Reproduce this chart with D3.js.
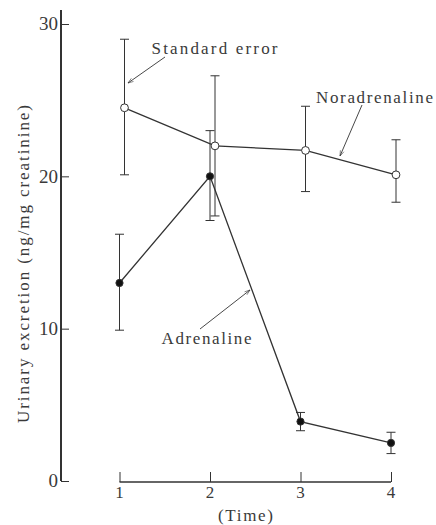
<!DOCTYPE html>
<html>
<head>
<meta charset="utf-8">
<script src="https://cdn.jsdelivr.net/npm/d3@7"></script>
<style>
  html, body { margin: 0; padding: 0; background: #fff; }
  text { font-family: "Liberation Serif", "DejaVu Serif", serif; fill: #3a3a3a; }
</style>
</head>
<body>
<div id="chart"></div>
<script>
// values
const times = [1, 2, 3, 4];
const noradrenaline = [24.5, 22.0, 21.7, 20.1];
const noradrenalineHigh = [29.0, 26.6, 24.6, 22.4];
const noradrenalineLow = [20.1, 17.4, 19.0, 18.3];
const adrenaline = [13.0, 20.0, 3.9, 2.5];
const adrenalineHigh = [16.2, 23.0, 4.5, 3.2];
const adrenalineLow = [9.9, 17.1, 3.3, 1.8];
const yTicks = [0, 10, 20, 30];

const width = 436, height = 525;
const ink = "#333";

const svg = d3.select("#chart").append("svg")
    .attr("width", width)
    .attr("height", height);

const x = d3.scaleLinear().domain([1, 4]).range([119.5, 391]);
const y = d3.scaleLinear().domain([0, 30]).range([481, 24]);

// y axis: heavy line, ticks pointing inwards
svg.append("line")
    .attr("x1", 61).attr("x2", 61)
    .attr("y1", 10).attr("y2", y(0))
    .attr("stroke", ink).attr("stroke-width", 2);

const yAxis = svg.append("g")
    .attr("transform", "translate(61,0)")
    .call(d3.axisRight(y).tickValues(yTicks).tickSize(8).tickFormat(""));
yAxis.select(".domain").remove();
yAxis.selectAll(".tick line").attr("stroke", ink);

svg.append("g").selectAll("text")
    .data(yTicks)
    .join("text")
    .attr("x", 58)
    .attr("y", d => y(d))
    .attr("dy", "0.33em")
    .attr("text-anchor", "end")
    .attr("font-size", 19)
    .text(d => d);

// x axis: ticks pointing up
const xAxis = svg.append("g")
    .attr("transform", `translate(0,${y(0) + 1})`)
    .call(d3.axisTop(x).tickValues(times).tickSize(10).tickFormat(""));
xAxis.select(".domain")
    .attr("d", `M${x(1)},0H${x(4)}`)
    .attr("stroke", ink).attr("stroke-width", 1.5);
xAxis.selectAll(".tick line").attr("stroke", ink);

svg.append("g").selectAll("text")
    .data(times)
    .join("text")
    .attr("x", d => x(d))
    .attr("y", 498)
    .attr("text-anchor", "middle")
    .attr("font-size", 17)
    .text(d => d);

svg.append("text")
    .attr("x", 218)
    .attr("y", 521)
    .attr("font-size", 17)
    .attr("textLength", 55)
    .attr("lengthAdjust", "spacing")
    .text("(Time)");

svg.append("text")
    .attr("transform", `translate(28.5,423) rotate(-90)`)
    .attr("font-size", 17)
    .attr("textLength", 318)
    .attr("lengthAdjust", "spacing")
    .text("Urinary excretion (ng/mg creatinine)");

// series
function drawSeries(vals, hi, lo, dx, filled) {
    const g = svg.append("g");
    const pts = times.map((t, i) => ({ t, v: vals[i], hi: hi[i], lo: lo[i] }));
    const px = d => x(d.t) + dx;

    g.selectAll("line.err")
        .data(pts)
        .join("line")
        .attr("x1", px).attr("x2", px)
        .attr("y1", d => y(d.hi)).attr("y2", d => y(d.lo))
        .attr("stroke", ink).attr("stroke-width", 1);
    g.selectAll("path.cap")
        .data(pts)
        .join("path")
        .attr("d", d => `M${px(d) - 4.5},${y(d.hi)}h9M${px(d) - 4.5},${y(d.lo)}h9`)
        .attr("stroke", ink).attr("stroke-width", 1);

    g.append("path")
        .datum(pts)
        .attr("fill", "none")
        .attr("stroke", ink)
        .attr("stroke-width", 1.3)
        .attr("d", d3.line().x(px).y(d => y(d.v)));

    g.selectAll("circle")
        .data(pts)
        .join("circle")
        .attr("cx", px)
        .attr("cy", d => y(d.v))
        .attr("r", filled ? 3.6 : 3.9)
        .attr("fill", filled ? "#111" : "#fff")
        .attr("stroke", ink)
        .attr("stroke-width", 1);
}

drawSeries(adrenaline, adrenalineHigh, adrenalineLow, 0, true);
drawSeries(noradrenaline, noradrenalineHigh, noradrenalineLow, 5, false);

// annotations with arrows
svg.append("defs").append("marker")
    .attr("id", "arrow")
    .attr("viewBox", "0 0 10 10")
    .attr("refX", 10).attr("refY", 5)
    .attr("markerWidth", 8).attr("markerHeight", 6)
    .attr("orient", "auto")
    .append("path")
    .attr("d", "M0,1.5L10,5L0,8.5")
    .attr("fill", "none")
    .attr("stroke", ink)
    .attr("stroke-width", 1);

const notes = [
    { label: "Standard error", tx: 151.5, ty: 54, len: 126, from: [165, 57], to: [128, 83] },
    { label: "Noradrenaline", tx: 316, ty: 103, len: 117, from: [362, 105], to: [340, 156] },
    { label: "Adrenaline", tx: 161.5, ty: 344, len: 90, from: [200, 329], to: [250, 290] }
];

svg.append("g").selectAll("line")
    .data(notes)
    .join("line")
    .attr("x1", d => d.from[0]).attr("y1", d => d.from[1])
    .attr("x2", d => d.to[0]).attr("y2", d => d.to[1])
    .attr("stroke", ink).attr("stroke-width", 0.9)
    .attr("marker-end", "url(#arrow)");

svg.append("g").selectAll("text")
    .data(notes)
    .join("text")
    .attr("x", d => d.tx)
    .attr("y", d => d.ty)
    .attr("font-size", 17)
    .attr("textLength", d => d.len)
    .attr("lengthAdjust", "spacing")
    .text(d => d.label);
</script>
</body>
</html>
